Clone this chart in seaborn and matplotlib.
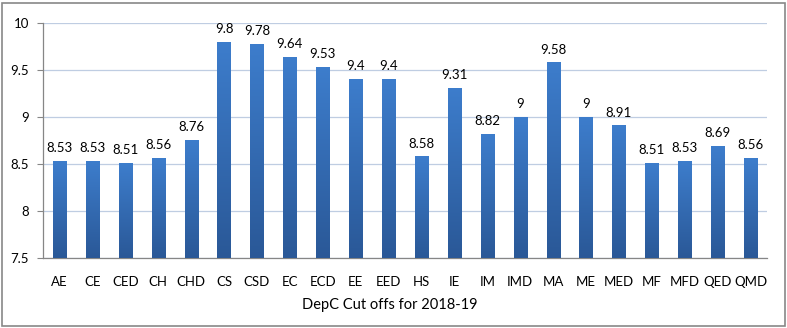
import matplotlib
matplotlib.use("Agg")
import matplotlib.pyplot as plt
import seaborn as sns
import numpy as np
import pandas as pd
from matplotlib.colors import LinearSegmentedColormap
from matplotlib.patches import Rectangle

departments = ["AE", "CE", "CED", "CH", "CHD", "CS", "CSD", "EC", "ECD", "EE", "EED",
               "HS", "IE", "IM", "IMD", "MA", "ME", "MED", "MF", "MFD", "QED", "QMD"]
cutoffs = [8.53, 8.53, 8.51, 8.56, 8.76, 9.8, 9.78, 9.64, 9.53, 9.4, 9.4,
           8.58, 9.31, 8.82, 9, 9.58, 9, 8.91, 8.51, 8.53, 8.69, 8.56]
value_labels = ["8.53", "8.53", "8.51", "8.56", "8.76", "9.8", "9.78", "9.64", "9.53", "9.4", "9.4",
                "8.58", "9.31", "8.82", "9", "9.58", "9", "8.91", "8.51", "8.53", "8.69", "8.56"]
y_ticks = [7.5, 8, 8.5, 9, 9.5, 10]
y_tick_labels = ["7.5", "8", "8.5", "9", "9.5", "10"]
x_title = "DepC Cut offs for 2018-19"

df = pd.DataFrame({"dept": departments, "cutoff": cutoffs})

sns.set_theme(style="white")
plt.rcParams["font.family"] = ["Lato", "DejaVu Sans"]

fig = plt.figure(figsize=(7.87, 3.28), dpi=100)
ax = fig.add_axes([43 / 787, 1 - 258 / 328, (767 - 43) / 787, (258 - 23) / 328])

sns.barplot(data=df, x="dept", y="cutoff", ax=ax, width=0.4, color="#3A76C4",
            saturation=1, zorder=3)

ax.set_ylim(7.5, 10)
ax.set_xlim(-0.5, len(departments) - 0.5)

# vertical gradient fill for each bar
grad = LinearSegmentedColormap.from_list("bar", ["#2A5897", "#3D7DCC"])
gimg = np.linspace(0, 1, 256).reshape(-1, 1)
for patch in list(ax.patches):
    x0, y0 = patch.get_x(), patch.get_y()
    w, h = patch.get_width(), patch.get_height()
    bottom = 7.5
    top = y0 + h
    patch.set_facecolor("none")
    patch.set_edgecolor("none")
    im = ax.imshow(gimg, cmap=grad, origin="lower", aspect="auto",
                   extent=(x0, x0 + w, bottom, top), zorder=3, interpolation="bilinear")
    clip = Rectangle((x0, bottom), w, top - bottom, transform=ax.transData)
    im.set_clip_path(clip)

ax.set_xlim(-0.5, len(departments) - 0.5)
ax.set_ylim(7.5, 10)

for i, (v, lab) in enumerate(zip(cutoffs, value_labels)):
    ax.annotate(lab, (i, v), xytext=(0, 5), textcoords="offset points",
                ha="center", va="bottom", fontsize=9.5, color="#000000")

ax.set_yticks(y_ticks)
ax.set_yticklabels(y_tick_labels, fontsize=9.5, color="#000000")
ax.tick_params(axis="y", which="major", length=4, width=0.8, color="#868686", pad=6, left=True)
ax.tick_params(axis="x", length=0, pad=13, labelsize=9.5, labelcolor="#000000")
ax.yaxis.grid(True, color="#BFCDE2", linewidth=0.9, zorder=0)
ax.xaxis.grid(False)
ax.set_axisbelow(True)

for side in ["top", "right"]:
    ax.spines[side].set_visible(False)
for side in ["left", "bottom"]:
    ax.spines[side].set_color("#868686")
    ax.spines[side].set_linewidth(0.9)

ax.set_xlabel("")
ax.set_ylabel("")
fig.text(390 / 787, 1 - 305 / 328, x_title, ha="center", va="center",
         fontsize=10.5, color="#000000")

# outer chart border
fig.patches.append(Rectangle((2 / 787, 2 / 328), 783 / 787, 323 / 328, transform=fig.transFigure,
                             fill=False, edgecolor="#888888", linewidth=1.2))

fig.savefig("out.png", dpi=100)
